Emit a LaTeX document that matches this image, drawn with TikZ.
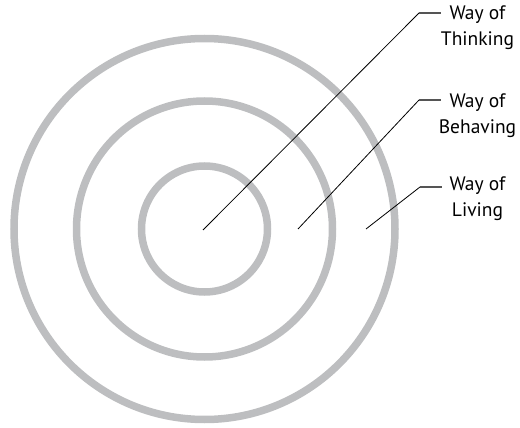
\documentclass[tikz,border=0pt]{standalone}
\usepackage{fontspec}
\setmainfont{PT Sans}
\definecolor{ringgray}{HTML}{BDBEC0}
\definecolor{leadgray}{HTML}{555555}
\begin{document}
\begin{tikzpicture}[x=1pt,y=-1pt,
  ring/.style={draw=ringgray,line width=7.5pt},
  leader/.style={draw=black,line width=0.8pt},
  shelf/.style={draw=leadgray,line width=1.3pt},
  label/.style={anchor=north,inner sep=0pt,align=center,
    font=\fontsize{19.5}{26}\selectfont}]
\useasboundingbox (0,0) rectangle (520,428);
\coordinate (c) at (204.5,229);
\draw[ring] (c) circle[radius=63];
\draw[ring] (c) circle[radius=128];
\draw[ring] (c) circle[radius=190.5];
% labels
\node[label] (t1) at (477.5,6) {Way of\\Thinking};
\node[label] (t2) at (477.5,94) {Way of\\Behaving};
\node[label] (t3) at (477.5,177) {Way of\\Living};
% leader points
\coordinate (s1) at (203,230);
\coordinate (k1) at (419,13);
\coordinate (e1) at (441,13);
\coordinate (s2) at (298,229);
\coordinate (k2) at (419,100);
\coordinate (e2) at (441,100);
\coordinate (s3) at (366,229);
\coordinate (k3) at (420,187);
\coordinate (e3) at (442,187);
\draw[leader] (s1) -- (k1);
\draw[shelf] (k1) -- (e1);
\draw[leader] (s2) -- (k2);
\draw[shelf] (k2) -- (e2);
\draw[leader] (s3) -- (k3);
\draw[shelf] (k3) -- (e3);
\end{tikzpicture}
\end{document}
